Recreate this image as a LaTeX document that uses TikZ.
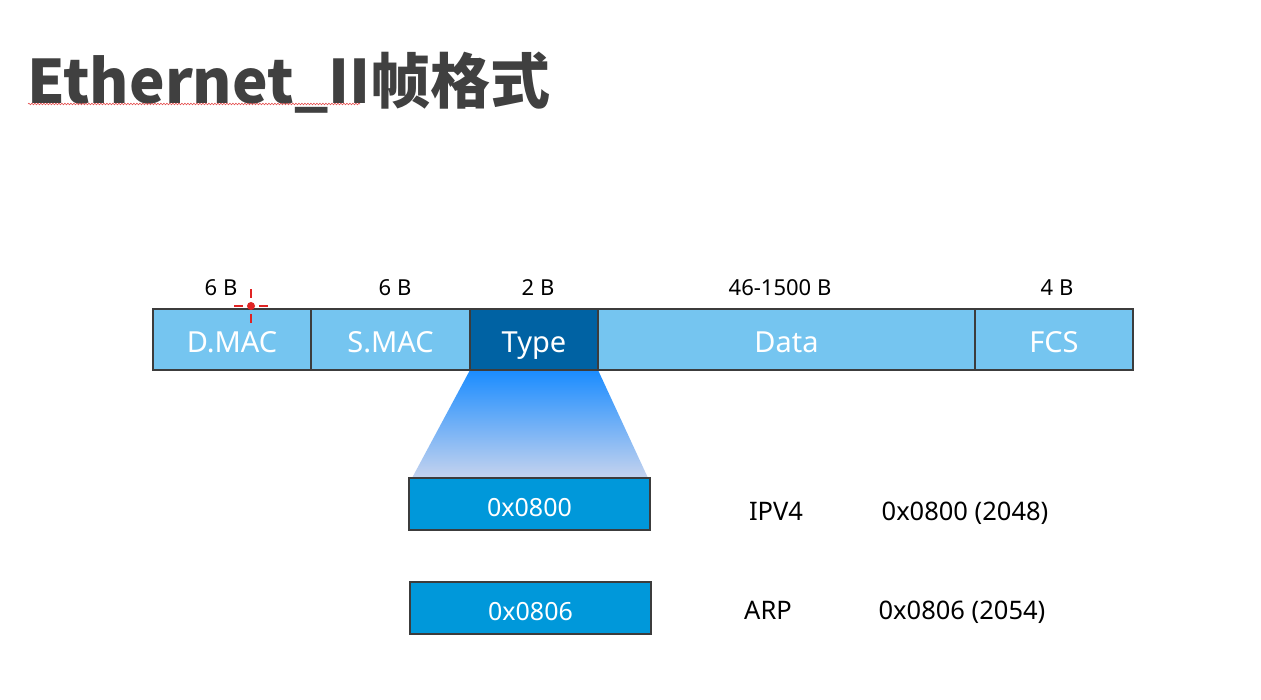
\documentclass[tikz,border=0pt]{standalone}
\usepackage{fontspec}
\setmainfont{Noto Sans}
\newfontfamily\cjk{Noto Sans CJK SC}
\usetikzlibrary{decorations.pathmorphing,backgrounds}

\definecolor{fieldblue}{HTML}{75C5F0}
\definecolor{typeblue}{HTML}{0062A3}
\definecolor{valblue}{HTML}{0098DA}
\definecolor{edge}{HTML}{3C3C3C}
\definecolor{titlegray}{HTML}{404040}
\definecolor{funtop}{HTML}{1A8CFF}
\definecolor{funmid}{HTML}{7CB6EE}
\definecolor{funbot}{HTML}{C5D3EE}
\definecolor{pointer}{HTML}{E02424}

\begin{document}
\begin{tikzpicture}[x=1pt,y=-1pt,
  field/.style={draw=edge, line width=2pt, fill=fieldblue, text=white,
    font=\fontsize{29}{31}\selectfont, minimum height=61pt,
    text height=27pt, text depth=0pt, inner sep=0pt, outer sep=0pt,
    anchor=north west},
  valbox/.style={draw=edge, line width=2pt, fill=valblue, text=white,
    font=\fontsize{25}{28}\selectfont, minimum width=241pt, minimum height=52pt,
    text height=25pt, text depth=0pt, inner sep=0pt, outer sep=0pt,
    anchor=north west},
  sizelabel/.style={anchor=base, font=\fontsize{22}{24}\selectfont, inner sep=0pt},
  note/.style={anchor=base, font=\fontsize{25.5}{28}\selectfont, inner sep=0pt}]

% page
\useasboundingbox (0,0) rectangle (1261,700);

% title with its spell-check squiggle
\node[anchor=base west, inner sep=0pt, text=titlegray,
  font=\cjk\bfseries\fontsize{60}{66}\selectfont] (title) at (27,104) {Ethernet\_II帧格式};
\draw[pointer!80, line width=0.6pt, decorate,
  decoration={snake, amplitude=0.8pt, segment length=3pt}]
  (28,104) -- (360,104);

% frame fields
\node[field, minimum width=158pt] (dmac) at (153,309) {D.MAC};
\node[field, minimum width=159pt] (smac) at (dmac.north east) {S.MAC};
\node[field, fill=typeblue, minimum width=128pt] (type) at (smac.north east) {Type};
\node[field, minimum width=377pt] (data) at (type.north east) {Data};
\node[field, minimum width=158pt] (fcs) at (data.north east) {FCS};

% field sizes
\node[sizelabel] (sdmac) at (221,296) {6 B};
\node[sizelabel] (ssmac) at (395,296) {6 B};
\node[sizelabel] (stype) at (538,296) {2 B};
\node[sizelabel] (sdata) at (780,296) {46-1500 B};
\node[sizelabel] (sfcs) at (1057,296) {4 B};

% type values
\node[valbox] (v800) at (409,478) {0x0800};
\node[valbox] (v806) at (410,582) {0x0806};

% zoom funnel from the Type field to the value box
\begin{scope}[on background layer]
  \fill[white] (0,0) rectangle (1261,700);
  \shade[top color=funtop, middle color=funmid, bottom color=funbot]
    (type.south west) -- (type.south east)
    -- ([xshift=-2pt]v800.north east) -- ([xshift=3pt]v800.north west) -- cycle;
\end{scope}

% protocol table
\node[note] (ipv4) at (776,520) {IPV4};
\node[note] (ipv4val) at (965,520) {0x0800 (2048)};
\node[note] (arp) at (768,619) {ARP};
\node[note] (arpval) at (962,619) {0x0806 (2054)};

% pointer mark
\coordinate (pt) at (251,306);
\begin{scope}[pointer, line width=2.8pt]
  \fill (pt) circle (4pt);
  \draw ([xshift=-17pt]pt) -- ([xshift=-8pt]pt);
  \draw ([xshift=8pt]pt) -- ([xshift=17pt]pt);
  \draw ([yshift=8pt]pt) -- ([yshift=17pt]pt);
  \draw ([yshift=-8pt]pt) -- ([yshift=-17pt]pt);
\end{scope}
\end{tikzpicture}
\end{document}
